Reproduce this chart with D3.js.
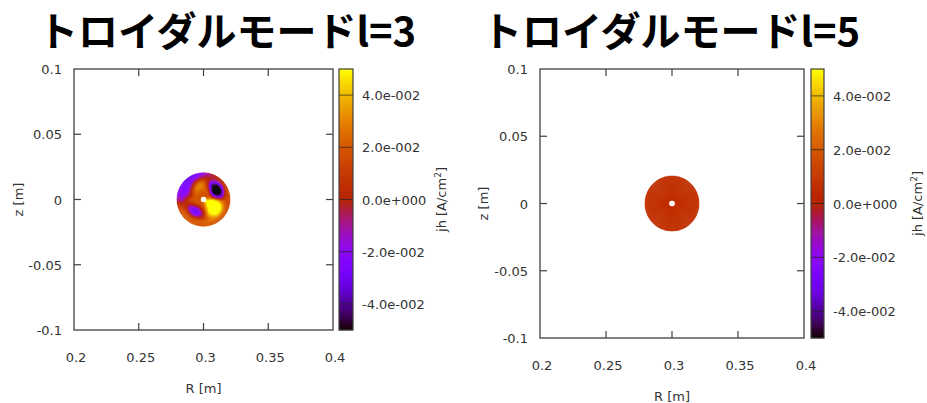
<!DOCTYPE html>
<html>
<head>
<meta charset="utf-8">
<script src="https://cdn.jsdelivr.net/npm/d3@7"></script>
<style>
  body { margin: 0; background: #fff; }
  text { font-family: "DejaVu Sans", Verdana, sans-serif; }
</style>
</head>
<body>
<svg id="chart" width="927" height="403"></svg>
<script>
// jh in units of 1e-2 A/cm^2, polar grid around (R=0.3, z=0)
// rows: angle bins (deg, CCW from +R), cols: rings inner -> outer
var thetaDeg = [0,15,30,45,60,75,90,105,120,135,150,165,180,195,210,225,240,255,270,285,300,315,330,345];
var ringEdges = [0.0025,0.0047,0.0069,0.0091,0.0113,0.0135,0.0157,0.0179,0.0205];

var jhL3 = [
  [4,4.5,4,3,2,1.5,1.5,1.5],
  [3,2.5,0,-3,-4.5,-3.5,0,1.5],
  [2.5,1.5,-3,-6,-6,-6,-2.5,1],
  [2,1.5,-2.5,-6,-6,-6,-3,0.5],
  [2,2,0.5,-2.5,-4.5,-3.5,-1,0],
  [2,2,2,1,0,0,0,-0.5],
  [2,2,2.5,2.5,2.5,1.5,0,-1.5],
  [2,2,2.5,3,3,1.5,-1,-2.5],
  [2,2,2.5,3,2,0,-2,-3],
  [2,2,2.5,2,0.5,-1.5,-3,-3],
  [2,2,2,1,-1,-2.5,-3,-2.5],
  [2,2,1.5,0.5,-1,-2,-2.5,-2],
  [2,2,2,1.5,0.5,-0.5,-1.5,-1],
  [2,2,1.5,1,0.5,0.5,0.5,1],
  [2,2,0.5,-1,-1.5,0,1.5,2],
  [2,1.5,-1,-2.5,-3,-1,1.5,2],
  [2,1,-1.5,-3,-3,-1,1.5,2],
  [2,1.5,-0.5,-2,-2,0,2,2],
  [2.5,2,1,0,0,1,2,2],
  [3,3,3,3,3,2.5,2.5,2],
  [4,4.5,5,5.5,5,4,3,2],
  [4.5,6,6,6,6,5.5,3.5,2],
  [5,6,6,6,6,5.5,3.5,2],
  [5,5.5,6,6,5.5,4,2.5,1.5]
];

var jhL5 = [
  [0.7,0.7,0.7,0.7,0.7,0.7,0.7,0.7],
  [0.7,0.7,0.7,0.7,0.7,0.7,0.7,0.7],
  [0.7,0.7,0.7,0.7,0.7,0.7,0.7,0.7],
  [0.7,0.7,0.7,0.7,0.7,0.7,0.7,0.7],
  [0.7,0.7,0.7,0.7,0.7,0.7,0.7,0.7],
  [0.7,0.7,0.7,0.7,0.7,0.7,0.7,0.7],
  [0.7,0.7,0.7,0.7,0.7,0.7,0.7,0.7],
  [0.7,0.7,0.7,0.7,0.7,0.7,0.7,0.7],
  [0.7,0.7,0.7,0.7,0.7,0.7,0.7,0.7],
  [0.7,0.7,0.7,0.7,0.7,0.7,0.7,0.7],
  [0.7,0.7,0.7,0.7,0.7,0.7,0.7,0.7],
  [0.7,0.7,0.7,0.7,0.7,0.7,0.7,0.7],
  [0.7,0.7,0.7,0.7,0.7,0.7,0.7,0.7],
  [0.7,0.7,0.7,0.7,0.7,0.7,0.7,0.7],
  [0.7,0.7,0.7,0.7,0.7,0.7,0.7,0.7],
  [0.7,0.7,0.7,0.7,0.7,0.7,0.7,0.7],
  [0.7,0.7,0.7,0.7,0.7,0.7,0.7,0.7],
  [0.7,0.7,0.7,0.7,0.7,0.7,0.7,0.7],
  [0.7,0.7,0.7,0.7,0.7,0.7,0.7,0.7],
  [0.7,0.7,0.7,0.7,0.7,0.7,0.7,0.7],
  [0.7,0.7,0.7,0.7,0.7,0.7,0.7,0.7],
  [0.7,0.7,0.7,0.7,0.7,0.7,0.7,0.7],
  [0.7,0.7,0.7,0.7,0.7,0.7,0.7,0.7],
  [0.7,0.7,0.7,0.7,0.7,0.7,0.7,0.7]
];

var xTicks = [0.2, 0.25, 0.3, 0.35, 0.4];
var yTicks = [-0.1, -0.05, 0, 0.05, 0.1];
var cbTicks = [-0.04, -0.02, 0, 0.02, 0.04];
var cbLabels = ["-4.0e-002", "-2.0e-002", "0.0e+000", "2.0e-002", "4.0e-002"];

var panels = [
  {title: "トロイダルモードl=3", data: jhL3, x0: 74, x1: 333, y0: 69, y1: 330,
   titleX: 38, cbX: 339, cbW: 14, xlabY: 388, zlabX: 18, cbLabX: 441},
  {title: "トロイダルモードl=5", data: jhL5, x0: 540, x1: 804, y0: 69, y1: 338,
   titleX: 482, cbX: 811, cbW: 13, xlabY: 396, zlabX: 483, cbLabX: 917}
];

var frameCol = "#404040";
var textCol = "#333";

// gnuplot pm3d default palette (rgbformulae 7,5,15)
function palette(t) {
  t = Math.max(0, Math.min(1, t));
  var r = Math.sqrt(t), g = t * t * t, b = Math.max(0, Math.sin(2 * Math.PI * t));
  return d3.rgb(r * 255, g * 255, b * 255).toString();
}

var svg = d3.select("#chart");

panels.forEach(function(p) {
  var g = svg.append("g");
  var x = d3.scaleLinear().domain([0.2, 0.4]).range([p.x0, p.x1]);
  var y = d3.scaleLinear().domain([-0.1, 0.1]).range([p.y1, p.y0]);
  var cb = d3.scaleLinear().domain([-0.05, 0.05]).range([p.y1, p.y0]);
  var tcol = d3.scaleLinear().domain([-5, 5]).range([0, 1]); // 1e-2 units -> palette

  // title
  svg.append("text")
    .attr("x", p.titleX).attr("y", 46)
    .style("font-family", "'Noto Sans CJK JP', sans-serif")
    .style("font-weight", 700)
    .style("font-size", "40px")
    .attr("fill", "#000")
    .text(p.title);

  // heat map on polar grid, bilinear between grid centres
  var sx = x(0.3 + 1) - x(0.3), sy = y(0) - y(1);
  var disk = g.append("g")
    .attr("transform", "translate(" + x(0.3) + "," + y(0) + ") scale(1," + (sy / sx) + ")");
  var nT = thetaDeg.length, nR = ringEdges.length - 1, sub = 4;
  var dTh = 360 / nT;
  var arc = d3.arc();
  function val(ti, ri) {
    ri = Math.max(0, Math.min(nR - 1, ri));
    var t0 = Math.floor(ti), ft = ti - t0, r0 = Math.floor(ri), fr = ri - r0;
    var r1 = Math.min(nR - 1, r0 + 1);
    var a = ((t0 % nT) + nT) % nT, b = (a + 1) % nT;
    var d = p.data;
    return (1 - ft) * ((1 - fr) * d[a][r0] + fr * d[a][r1]) + ft * ((1 - fr) * d[b][r0] + fr * d[b][r1]);
  }
  var cells = [];
  for (var k = 0; k < nT * sub; k++) {
    for (var j = 0; j < nR * sub; j++) {
      var ring = Math.floor(j / sub);
      var dr = (ringEdges[ring + 1] - ringEdges[ring]) / sub;
      var thA = thetaDeg[0] - dTh / 2 + k * dTh / sub;
      var rA = ringEdges[ring] + (j % sub) * dr;
      cells.push({thA: thA, thB: thA + dTh / sub, rA: rA, rB: rA + dr,
        v: val((k + 0.5) / sub - 0.5, (j + 0.5) / sub - 0.5)});
    }
  }
  disk.selectAll("path").data(cells).enter().append("path")
    .attr("d", function(c) {
      return arc({innerRadius: c.rA * sx, outerRadius: c.rB * sx,
        startAngle: Math.PI / 2 - c.thB * Math.PI / 180,
        endAngle: Math.PI / 2 - c.thA * Math.PI / 180});
    })
    .attr("fill", function(c) { return palette(tcol(c.v)); })
    .attr("stroke", function(c) { return palette(tcol(c.v)); })
    .attr("stroke-width", 0.4);

  // frame + inward ticks on all sides
  g.append("rect")
    .attr("x", p.x0).attr("y", p.y0)
    .attr("width", p.x1 - p.x0).attr("height", p.y1 - p.y0)
    .attr("fill", "none").attr("stroke", frameCol).attr("stroke-width", 1.3);
  var tl = 7;
  xTicks.slice(1, -1).forEach(function(t) {
    g.append("line").attr("x1", x(t)).attr("x2", x(t)).attr("y1", p.y1).attr("y2", p.y1 - tl)
      .attr("stroke", frameCol).attr("stroke-width", 1.2);
    g.append("line").attr("x1", x(t)).attr("x2", x(t)).attr("y1", p.y0).attr("y2", p.y0 + tl)
      .attr("stroke", frameCol).attr("stroke-width", 1.2);
  });
  yTicks.slice(1, -1).forEach(function(t) {
    g.append("line").attr("x1", p.x0).attr("x2", p.x0 + tl).attr("y1", y(t)).attr("y2", y(t))
      .attr("stroke", frameCol).attr("stroke-width", 1.2);
    g.append("line").attr("x1", p.x1).attr("x2", p.x1 - tl).attr("y1", y(t)).attr("y2", y(t))
      .attr("stroke", frameCol).attr("stroke-width", 1.2);
  });

  // tick labels
  g.selectAll(".xt").data(xTicks).enter().append("text")
    .attr("x", function(d) { return x(d) + 2; })
    .attr("y", p.y1 + 32)
    .attr("text-anchor", "middle")
    .attr("font-size", 13).attr("fill", textCol)
    .text(function(d) { return String(d); });
  g.selectAll(".yt").data(yTicks).enter().append("text")
    .attr("x", p.x0 - 12)
    .attr("y", function(d) { return y(d) + 5; })
    .attr("text-anchor", "end")
    .attr("font-size", 13).attr("fill", textCol)
    .text(function(d) { return String(d); });

  // axis labels
  g.append("text")
    .attr("x", (p.x0 + p.x1) / 2).attr("y", p.xlabY + 5)
    .attr("text-anchor", "middle").attr("font-size", 13).attr("fill", textCol)
    .text("R [m]");
  g.append("text")
    .attr("transform", "translate(" + (p.zlabX + 5) + "," + ((p.y0 + p.y1) / 2) + ") rotate(-90)")
    .attr("text-anchor", "middle").attr("font-size", 13).attr("fill", textCol)
    .text("z [m]");

  // colour bar
  var nb = 130;
  var steps = d3.range(nb).map(function(i) { return -0.05 + (i + 0.5) * 0.1 / nb; });
  var bh = (p.y1 - p.y0) / nb;
  g.selectAll(".cb").data(steps).enter().append("rect")
    .attr("x", p.cbX).attr("width", p.cbW)
    .attr("y", function(d) { return cb(d) - bh / 2 - 0.3; })
    .attr("height", bh + 0.6)
    .attr("fill", function(d) { return palette(tcol(d * 100)); });
  g.selectAll(".cbt").data(cbTicks).enter().append("line")
    .attr("x1", p.cbX).attr("x2", p.cbX + p.cbW)
    .attr("y1", function(d) { return cb(d); }).attr("y2", function(d) { return cb(d); })
    .attr("stroke", "#202020").attr("stroke-opacity", 0.7).attr("stroke-width", 1);
  g.append("rect")
    .attr("x", p.cbX).attr("y", p.y0).attr("width", p.cbW).attr("height", p.y1 - p.y0)
    .attr("fill", "none").attr("stroke", frameCol).attr("stroke-width", 1.2);
  g.selectAll(".cbl").data(cbTicks).enter().append("text")
    .attr("x", p.cbX + p.cbW + 9)
    .attr("y", function(d) { return cb(d) + 5; })
    .attr("font-size", 13).attr("fill", textCol)
    .text(function(d, i) { return cbLabels[i]; });
  var jl = g.append("text")
    .attr("transform", "translate(" + (p.cbLabX + 5) + "," + ((p.y0 + p.y1) / 2) + ") rotate(-90)")
    .attr("text-anchor", "middle").attr("font-size", 13).attr("fill", textCol);
  jl.append("tspan").text("jh [A/cm");
  jl.append("tspan").attr("dy", -5).attr("font-size", 9).text("2");
  jl.append("tspan").attr("dy", 5).text("]");
});
</script>
</body>
</html>
